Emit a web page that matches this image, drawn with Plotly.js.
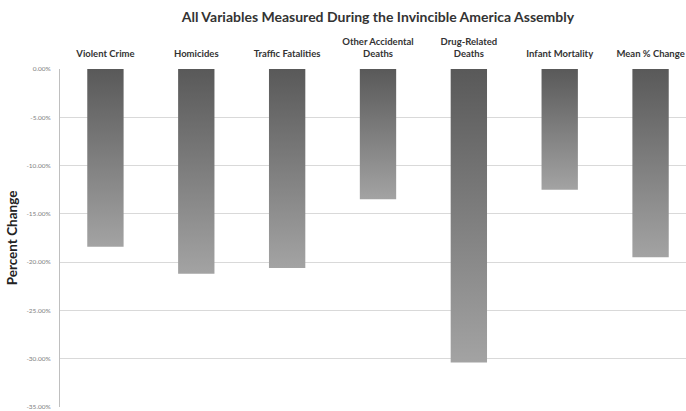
<!DOCTYPE html>
<html>
<head>
<meta charset="utf-8">
<script src="https://cdn.plot.ly/plotly-3.0.1.min.js"></script>
<style>html,body{margin:0;padding:0;background:#fff;}#chart{width:686px;height:411px;}</style>
</head>
<body>
<div id="chart"></div>
<script>
const categories = ["Violent Crime", "Homicides", "Traffic Fatalities", "Other Accidental<br>Deaths", "Drug-Related<br>Deaths", "Infant Mortality", "Mean % Change"];
const percentChange = [-18.4, -21.2, -20.6, -13.5, -30.4, -12.5, -19.5];
const yTickValues = [0, -5, -10, -15, -20, -25, -30, -35];
const yTickLabels = ["0.00%", "-5.00%", "-10.00%", "-15.00%", "-20.00%", "-25.00%", "-30.00%", "-35.00%"];

const trace = {
  type: "bar",
  x: categories,
  y: percentChange,
  marker: {color: "#7d7d7d", line: {width: 0}},
  hoverinfo: "x+y"
};

const layout = {
  width: 686, height: 411,
  margin: {l: 60, r: 0, t: 69, b: 4},
  paper_bgcolor: "#ffffff",
  plot_bgcolor: "#ffffff",
  font: {family: "Lato, 'Liberation Sans', sans-serif", color: "#333"},
  title: {text: "<b>All Variables Measured During the Invincible America Assembly</b>",
          font: {size: 14, color: "#333"}, x: 0.551, xanchor: "center", y: 0.958, yanchor: "middle"},
  bargap: 0.6,
  xaxis: {
    side: "top", type: "category",
    range: [-0.5, 6.39],
    showgrid: false, zeroline: false, showline: false, ticks: "",
    tickfont: {size: 9.5, color: "#333", family: "Lato, sans-serif", weight: "bold"},
    ticklabelstandoff: 9,
    fixedrange: true
  },
  yaxis: {
    range: [-35, 0],
    tickvals: yTickValues, ticktext: yTickLabels,
    tickfont: {size: 6.5, color: "#808080"},
    showgrid: true, gridcolor: "#d9d9d9", gridwidth: 1,
    zeroline: false,
    showline: true, linecolor: "#bfbfbf", linewidth: 1,
    ticks: "", ticklabelstandoff: 7,
    title: {text: "<b>Percent Change</b>", font: {size: 13.5, color: "#222"}, standoff: 5},
    fixedrange: true
  },
  showlegend: false
};

Plotly.newPlot("chart", [trace], layout, {displayModeBar: false, staticPlot: true}).then(function(gd){
  const svg = gd.querySelector("svg.main-svg");
  const ns = "http://www.w3.org/2000/svg";
  let defs = svg.querySelector("defs");
  if (!defs) { defs = document.createElementNS(ns, "defs"); svg.insertBefore(defs, svg.firstChild); }
  const lg = document.createElementNS(ns, "linearGradient");
  lg.setAttribute("id", "barGrad");
  lg.setAttribute("x1", "0"); lg.setAttribute("y1", "0");
  lg.setAttribute("x2", "0"); lg.setAttribute("y2", "1");
  [["0", "#595959"], ["1", "#a3a3a3"]].forEach(function(s){
    const st = document.createElementNS(ns, "stop");
    st.setAttribute("offset", s[0]); st.setAttribute("stop-color", s[1]);
    lg.appendChild(st);
  });
  defs.appendChild(lg);
  gd.querySelectorAll(".bars .point path").forEach(function(p){
    p.style.fill = "url(#barGrad)";
  });
});
</script>
</body>
</html>
